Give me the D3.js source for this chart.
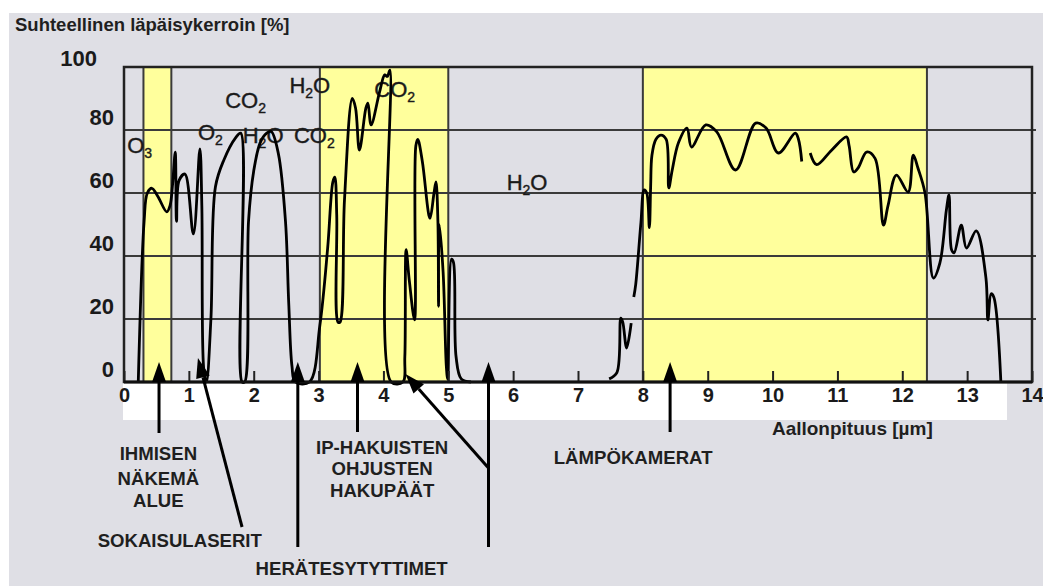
<!DOCTYPE html>
<html>
<head>
<meta charset="utf-8">
<script src="https://cdnjs.cloudflare.com/ajax/libs/d3/7.8.5/d3.min.js"></script>
<style>
  body { margin: 0; background: #fff; }
  svg { display: block; font-family: "Liberation Sans", Arial, sans-serif; }
</style>
</head>
<body>
<svg id="chart"></svg>
<script>
// wavelength ticks (µm) and transmission ticks (%)
let xTicks = [0, 1, 2, 3, 4, 5, 6, 7, 8, 9, 10, 11, 12, 13, 14]
let yTicks = [0, 20, 40, 60, 80, 100]
// yellow windows [from, to] in µm
let bands = [[0.3, 0.73], [3.02, 5.0], [8.0, 12.38]]

// transmission curve, [wavelength, percent], drawn in pieces
let curveUV = [[0.22, 0], [0.31, 51], [0.36, 60], [0.43, 61.5], [0.52, 59], [0.66, 54], [0.71, 56],
  [0.75, 63], [0.79, 73], [0.81, 51], [0.85, 64], [0.94, 66], [1.07, 47], [1.17, 74], [1.2, 56],
  [1.23, 4], [1.27, 0], [1.34, 20], [1.41, 62], [1.54, 70.5], [1.72, 77.5], [1.8, 79], [1.82, 0],
  [1.86, 0], [1.92, 51], [2.0, 67], [2.1, 76], [2.2, 79], [2.27, 79.5], [2.38, 72.5], [2.49, 51],
  [2.54, 25], [2.59, 5], [2.64, 0], [2.86, 0], [3.02, 18], [3.14, 42.5], [3.22, 63.5], [3.25, 65],
  [3.28, 53], [3.3, 19], [3.33, 19], [3.4, 58], [3.52, 90], [3.57, 87], [3.63, 73.6], [3.73, 87],
  [3.76, 88.5], [3.81, 81.6], [3.94, 92], [4.02, 97.5], [4.06, 97], [4.1, 99], [4.12, 0], [4.3, 0],
  [4.33, 8], [4.35, 42], [4.4, 32], [4.48, 19.7], [4.5, 75], [4.53, 77], [4.6, 70], [4.7, 53],
  [4.72, 52], [4.78, 60], [4.81, 63.5], [4.84, 51], [4.85, 24], [4.86, 50], [4.92, 35], [4.97, 5],
  [4.99, 1], [5.05, 39], [5.08, 38], [5.12, 8], [5.2, 1], [5.35, 0]]
let curveMid = [[7.48, 1], [7.6, 3], [7.66, 20.3], [7.69, 19], [7.75, 10.8], [7.82, 18.7]]
let curveIR1 = [[7.86, 27], [7.89, 31], [7.97, 50.5], [8.02, 61], [8.06, 60], [8.1, 49], [8.12, 62],
  [8.14, 72], [8.2, 77], [8.28, 78.4], [8.36, 77], [8.4, 61.6], [8.45, 67], [8.55, 76], [8.68, 80.6],
  [8.75, 74.6], [8.97, 81.6], [9.14, 79.4], [9.43, 67.3], [9.74, 82.2], [9.9, 80.6], [10.09, 72.7],
  [10.35, 79], [10.4, 77], [10.45, 70]]
let curveIR2 = [[10.58, 72.7], [10.68, 69], [10.91, 73.6], [11.14, 77.8], [11.18, 75], [11.25, 66.7],
  [11.32, 68], [11.45, 73], [11.58, 71], [11.71, 49.8], [11.78, 56], [11.91, 65.7], [12.09, 60.3],
  [12.17, 72], [12.24, 68], [12.35, 60], [12.48, 33], [12.58, 37.8], [12.68, 54.6], [12.72, 59.4],
  [12.76, 42], [12.8, 41], [12.91, 49.8], [12.99, 42.5], [13.14, 48], [13.29, 33], [13.32, 19.7],
  [13.37, 28], [13.41, 27], [13.52, 0]]

// absorbing molecules: [name, subscript, tail, wavelength, percent]
let molecules = [
  ['O', '3', '', 0.05, 72.7],
  ['O', '2', '', 1.14, 76.8],
  ['CO', '2', '', 1.56, 87],
  ['H', '2', 'O', 1.83, 75.9],
  ['CO', '2', '', 2.62, 75.9],
  ['H', '2', 'O', 2.55, 91.7],
  ['CO', '2', '', 3.86, 90.5],
  ['H', '2', 'O', 5.9, 61]
]

// applications pointing at wavelengths
let pointerAt = [0.54, 2.68, 3.6, 5.62, 8.42]
let pointerEnd = [433, 547, 432, 547, 432]
let slantFrom = [1.14, 4.34]
let slantTo = [1.82, 5.62]
let slantEnd = [527, 468]
let labelLines = [
  [['IHMISEN', 'NÄKEMÄ', 'ALUE'], 0.53, [453, 478, 500]],
  [['SOKAISULASERIT'], 0.86, [540]],
  [['HERÄTESYTYTTIMET'], 3.51, [568]],
  [['IP-HAKUISTEN', 'OHJUSTEN', 'HAKUPÄÄT'], 3.98, [447, 468, 490]],
  [['LÄMPÖKAMERAT'], 7.85, [457]]
]

let width = 1043
let height = 586
let plotLeft = 124
let plotRight = 1032
let plotTop = 67
let plotBottom = 382

let svg = d3.select('#chart').attr('width', width).attr('height', height)
let x = d3.scaleLinear().domain([0, 14]).range([plotLeft, plotRight])
let y = d3.scaleLinear().domain([0, 100]).range([plotBottom, plotTop])

svg.append('rect').attr('width', width).attr('height', height).attr('fill', '#fff')
svg.append('rect').attr('x', 9).attr('y', 13).attr('width', width - 9).attr('height', height - 13)
  .attr('fill', '#dfdfe5')
// white strip behind the wavelength numbers
svg.append('rect').attr('x', plotLeft - 1).attr('y', plotBottom).attr('width', 1008 - plotLeft).attr('height', 38)
  .attr('fill', '#fff')

svg.selectAll('rect.band').data(bands).enter().append('rect')
  .attr('class', 'band')
  .attr('x', (d) => x(d[0]))
  .attr('y', plotTop)
  .attr('width', (d) => x(d[1]) - x(d[0]))
  .attr('height', plotBottom - plotTop)
  .attr('fill', '#ffff9c')

svg.selectAll('line.grid').data(yTicks.slice(1, 5)).enter().append('line')
  .attr('class', 'grid')
  .attr('x1', plotLeft).attr('x2', plotRight + 4)
  .attr('y1', (d) => y(d)).attr('y2', (d) => y(d))
  .attr('stroke', '#3a3a3a').attr('stroke-width', 2)

let edges = bands.flat()
svg.selectAll('line.edge').data(edges).enter().append('line')
  .attr('class', 'edge')
  .attr('x1', (d) => x(d)).attr('x2', (d) => x(d))
  .attr('y1', plotTop).attr('y2', plotBottom)
  .attr('stroke', '#3a3a3a').attr('stroke-width', 2)

svg.append('rect').attr('x', plotLeft).attr('y', plotTop)
  .attr('width', plotRight - plotLeft).attr('height', plotBottom - plotTop)
  .attr('fill', 'none').attr('stroke', '#222').attr('stroke-width', 2.5)

// molecule labels
let mol = svg.selectAll('text.mol').data(molecules).enter().append('text')
  .attr('class', 'mol')
  .attr('x', (d) => x(d[3]))
  .attr('y', (d) => y(d[4]))
  .attr('font-size', 22)
  .attr('fill', '#1a1a1a')
  .attr('stroke', '#1a1a1a')
  .attr('stroke-width', 0.4)
mol.append('tspan').text((d) => d[0])
mol.append('tspan').attr('font-size', 14).attr('dy', 5).text((d) => d[1])
mol.append('tspan').attr('dy', -5).text((d) => d[2])

let line = d3.line()
  .x((d) => x(d[0]))
  .y((d) => y(d[1]))
  .curve(d3.curveCatmullRom.alpha(0.5))

svg.selectAll('path.curve').data([curveUV, curveMid, curveIR1, curveIR2]).enter().append('path')
  .attr('class', 'curve')
  .attr('d', line)
  .attr('fill', 'none')
  .attr('stroke', '#000')
  .attr('stroke-width', 2.8)
  .attr('stroke-linejoin', 'round')

// x axis: ticks pointing up into the plot
let xAxis = svg.append('g')
  .attr('transform', `translate(0,${plotBottom})`)
  .call(d3.axisBottom(x).tickValues(xTicks).tickSizeInner(-11).tickSizeOuter(0).tickPadding(6))
xAxis.select('.domain').remove()
xAxis.selectAll('line').attr('stroke', '#222').attr('stroke-width', 2)
xAxis.selectAll('text')
  .attr('font-family', '"Liberation Sans", Arial, sans-serif')
  .attr('font-size', 20).attr('font-weight', 'bold').attr('fill', '#1a1a1a')
svg.append('line').attr('x1', plotLeft).attr('x2', plotRight).attr('y1', plotBottom).attr('y2', plotBottom)
  .attr('stroke', '#111').attr('stroke-width', 3)

let yAxis = svg.append('g')
  .attr('transform', `translate(${plotLeft},0)`)
  .call(d3.axisLeft(y).tickValues(yTicks).tickSize(0).tickPadding(10))
yAxis.select('.domain').remove()
yAxis.selectAll('text')
  .attr('font-family', '"Liberation Sans", Arial, sans-serif')
  .attr('font-size', 22).attr('font-weight', 'bold').attr('fill', '#1a1a1a')
  .attr('transform', (d) => d === 100 ? 'translate(-17,-9)' : 'translate(0,-13)')

// pointer arrows
let arrow = (tx, ty, ex, ey) => {
  let dx = tx - ex
  let dy = ty - ey
  let len = Math.hypot(dx, dy)
  let ux = dx / len
  let uy = dy / len
  let bx = tx - ux * 20
  let by = ty - uy * 20
  svg.append('polygon')
    .attr('points', [[tx, ty], [bx - uy * 7, by + ux * 7], [bx + uy * 7, by - ux * 7]].join(' '))
    .attr('fill', '#000')
  svg.append('line').attr('x1', bx).attr('y1', by).attr('x2', ex).attr('y2', ey)
    .attr('stroke', '#000').attr('stroke-width', 3)
}
pointerAt.forEach((w, i) => arrow(x(w), plotBottom - 20, x(w), pointerEnd[i]))
slantFrom.forEach((w, i) => arrow(x(w), i === 0 ? 358 : 374, x(slantTo[i]), slantEnd[i]))

labelLines.forEach((l) => {
  l[0].forEach((t, j) => {
    svg.append('text')
      .attr('x', x(l[1]))
      .attr('y', l[2][j])
      .attr('dy', '0.36em')
      .attr('text-anchor', 'middle')
      .attr('font-size', 18.6)
      .attr('font-weight', 'bold')
      .attr('fill', '#1f1f1f')
      .text(t)
  })
})

svg.append('text')
  .attr('x', x(11.23)).attr('y', 428).attr('dy', '0.36em')
  .attr('text-anchor', 'middle')
  .attr('font-size', 19).attr('font-weight', 'bold').attr('fill', '#1f1f1f')
  .text('Aallonpituus [µm]')

svg.append('text')
  .attr('x', 15).attr('y', 31)
  .attr('font-size', 18.5).attr('font-weight', 'bold').attr('fill', '#1f1f1f')
  .text('Suhteellinen läpäisykerroin [%]')
</script>
</body>
</html>
